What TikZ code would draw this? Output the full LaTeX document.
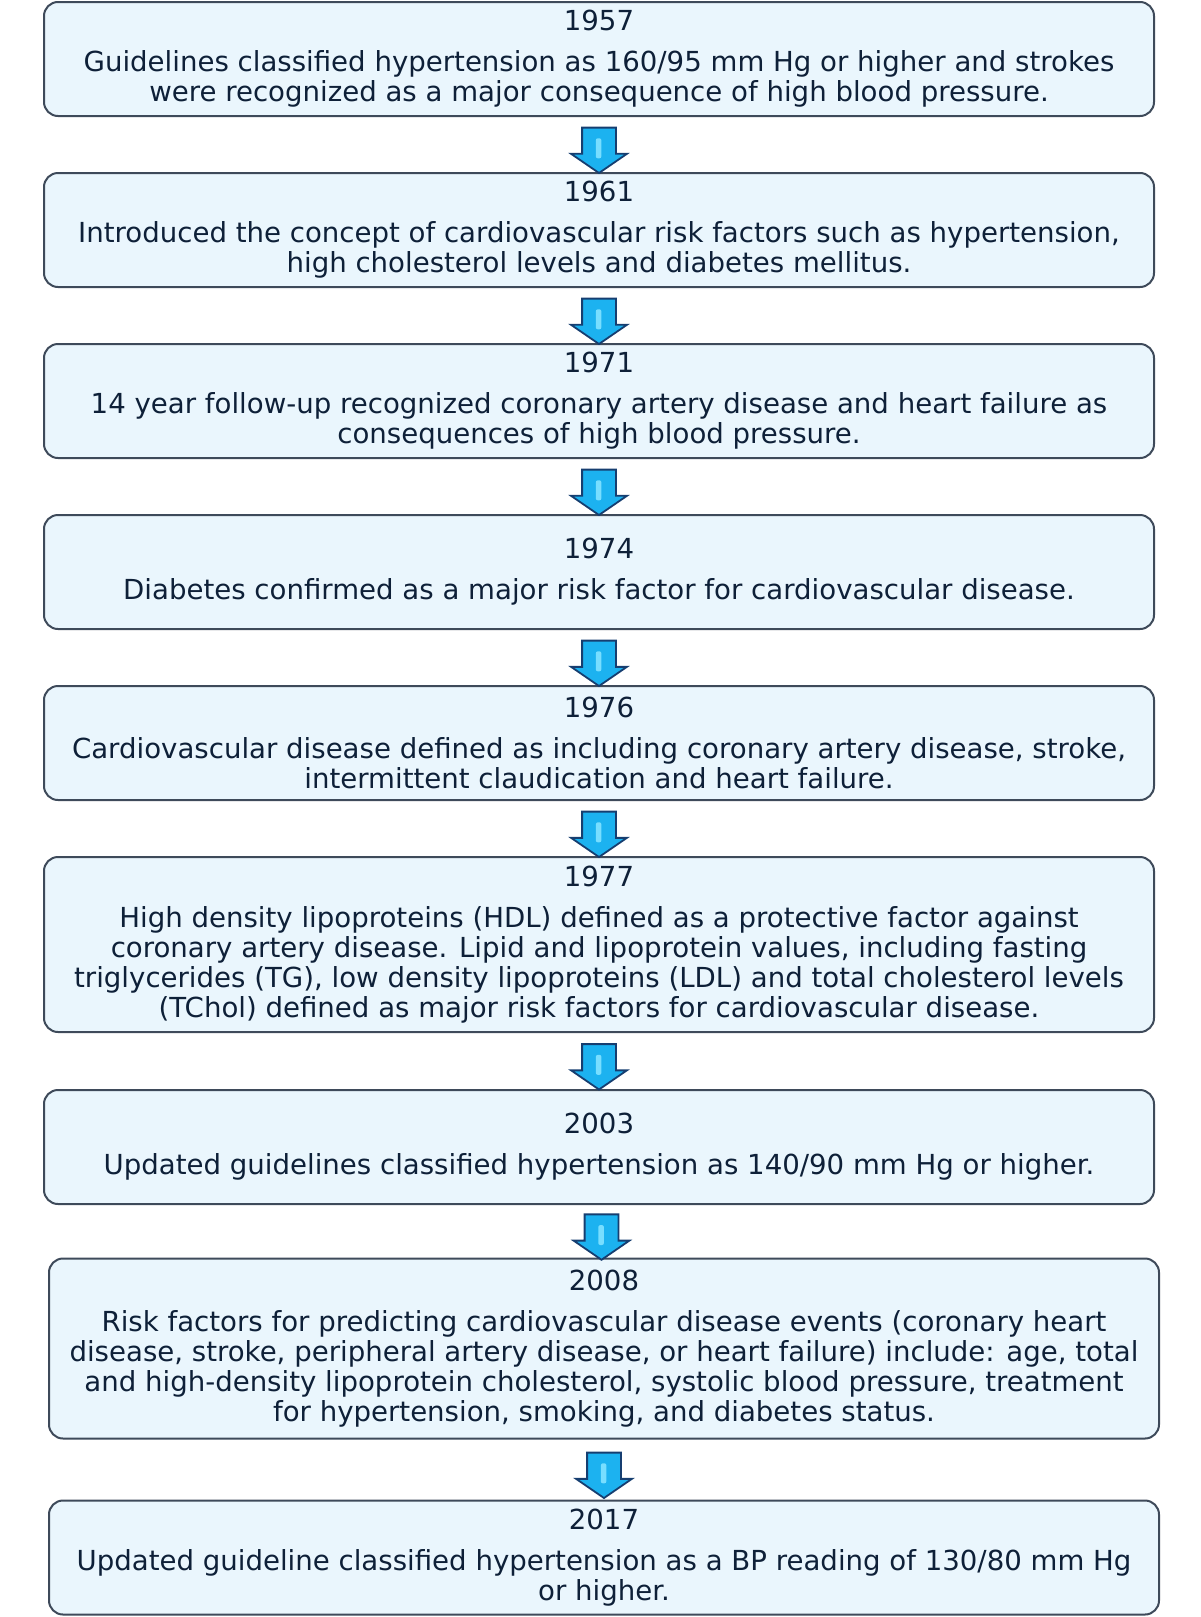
\documentclass[tikz,border=0pt]{standalone}
\usepackage{fontspec}
\setmainfont{DejaVu Sans}
\usepackage{tikz}
\usetikzlibrary{shapes.arrows}
\definecolor{boxfill}{RGB}{234,246,253}
\definecolor{boxline}{RGB}{62,74,90}
\definecolor{txtcol}{RGB}{14,32,56}
\definecolor{arrfill}{RGB}{28,178,240}
\definecolor{arrline}{RGB}{22,62,112}
\definecolor{arrshine}{RGB}{120,222,255}
\tikzset{
  event/.style={draw=boxline, fill=boxfill, line width=1pt, rounded corners=7pt,
    minimum width=555pt, minimum height=57pt, inner xsep=4pt, align=center,
    text=txtcol, font=\fontsize{13.8}{15}\selectfont},
  downarrow/.style={single arrow, shape border rotate=270, draw=arrline, fill=arrfill,
    line width=0.9pt, inner sep=8pt, minimum height=20.5pt, minimum width=27pt,
    single arrow head extend=5.5pt, single arrow tip angle=111,
    path picture={\fill[arrshine, rounded corners=1pt]
      ([xshift=-1.6pt,yshift=6pt]path picture bounding box.center) rectangle
      ([xshift=1.2pt,yshift=-4pt]path picture bounding box.center);}}
}
\begin{document}
\begin{tikzpicture}[x=0.5pt,y=-0.5pt]
\useasboundingbox (0,0) rectangle (1200,1617);
\node[event] (y1957) at (599,59) {1957\\[5.5pt]Guidelines classified hypertension as 160/95 mm Hg or higher and strokes\\were recognized as a major consequence of high blood pressure.};
\node[event] (y1961) at (599,230) {1961\\[5.5pt]Introduced the concept of cardiovascular risk factors such as hypertension,\\high cholesterol levels and diabetes mellitus.};
\node[event] (y1971) at (599,401) {1971\\[5.5pt]14 year follow-up recognized coronary artery disease and heart failure as\\consequences of high blood pressure.};
\node[event] (y1974) at (599,572) {1974\\[5.5pt]Diabetes confirmed as a major risk factor for cardiovascular disease.};
\node[event] (y1976) at (599,743) {1976\\[5.5pt]Cardiovascular disease defined as including coronary artery disease, stroke,\\intermittent claudication and heart failure.};
\node[event, minimum height=87.5pt] (y1977) at (599,944.5) {1977\\[5.5pt]High density lipoproteins (HDL) defined as a protective factor against\\coronary artery disease. Lipid and lipoprotein values, including fasting\\triglycerides (TG), low density lipoproteins (LDL) and total cholesterol levels\\(TChol) defined as major risk factors for cardiovascular disease.};
\node[event] (y2003) at (599,1147) {2003\\[5.5pt]Updated guidelines classified hypertension as 140/90 mm Hg or higher.};
\node[event, minimum height=90pt] (y2008) at (604,1348.5) {2008\\[5.5pt]Risk factors for predicting cardiovascular disease events (coronary heart\\disease, stroke, peripheral artery disease, or heart failure) include: age, total\\and high-density lipoprotein cholesterol, systolic blood pressure, treatment\\for hypertension, smoking, and diabetes status.};
\node[event] (y2017) at (604,1557.5) {2017\\[5.5pt]Updated guideline classified hypertension as a BP reading of 130/80 mm Hg\\or higher.};
% arrows between the years
\path (y1957.south) -- node[downarrow] (a1) {} (y1961.north);
\path (y1961.south) -- node[downarrow] (a2) {} (y1971.north);
\path (y1971.south) -- node[downarrow] (a3) {} (y1974.north);
\path (y1974.south) -- node[downarrow] (a4) {} (y1976.north);
\path (y1976.south) -- node[downarrow] (a5) {} (y1977.north);
\path (y1977.south) -- node[downarrow] (a6) {} (y2003.north);
\path (y2003.south) -- node[downarrow] (a7) {} (y2008.north);
\path (y2008.south) -- node[downarrow] (a8) {} (y2017.north);
\end{tikzpicture}
\end{document}
